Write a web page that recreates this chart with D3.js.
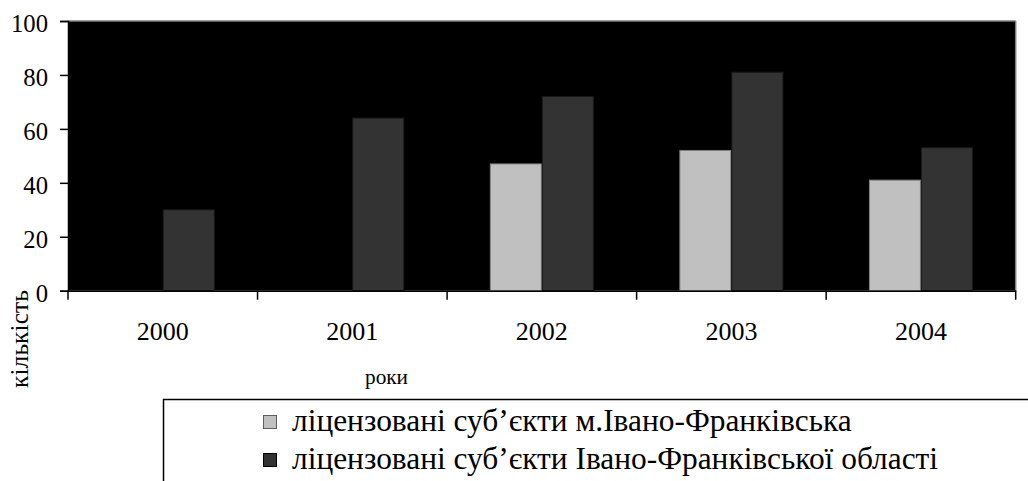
<!DOCTYPE html>
<html><head><meta charset="utf-8">
<script src="https://cdn.jsdelivr.net/npm/d3@7"></script>
<style>html,body{margin:0;padding:0;background:#fff;}</style></head>
<body>
<svg id="chart" width="1028" height="481"></svg>
<script>
const years = ["2000","2001","2002","2003","2004"];
const seriesNames = ["ліцензовані суб’єкти м.Івано-Франківська","ліцензовані суб’єкти Івано-Франківської області"];
const cityValues = [0, 0, 47, 52, 41];
const regionValues = [30, 64, 72, 81, 53];
const yTicks = [0, 20, 40, 60, 80, 100];
const seriesColors = ["#c0c0c0", "#333333"];
const seriesStroke = ["#808080", "#1a1a1a"];
const xTitle = "роки";
const yTitle = "кількість";

const FONT = '"Liberation Serif"';
const svg = d3.select("#chart");
const L = 68, R = 1015.7, T = 21, B = 290.7;

function fitSize(str, width) {
  const t = svg.append("text").style("font-family", FONT).style("font-size", "100px").text(str);
  const w = t.node().getComputedTextLength();
  t.remove();
  return w > 0 ? 100 * width / w : 24;
}

function draw() {
  svg.selectAll("*").remove();

  const x0 = d3.scaleBand().domain(years).range([L, R]).padding(0);
  const keys = [0, 1];
  const x1 = d3.scaleBand().domain(keys).range([0, x0.bandwidth()]).paddingInner(0).paddingOuter(0.822);
  const y = d3.scaleLinear().domain([0, 100]).range([B, T]);

  svg.append("rect").attr("x", L).attr("y", T).attr("width", R - L).attr("height", B - T).attr("fill", "#000");
  svg.append("line").attr("x1", L).attr("x2", R).attr("y1", T).attr("y2", T).attr("stroke", "#808080").attr("stroke-width", 1.5);
  svg.append("line").attr("x1", R).attr("x2", R).attr("y1", T).attr("y2", B).attr("stroke", "#808080").attr("stroke-width", 1.5);

  const data = years.map((yr, i) => ({year: yr, vals: [cityValues[i], regionValues[i]]}));
  const g = svg.append("g");
  data.forEach(d => {
    keys.forEach(k => {
      const v = d.vals[k];
      if (v <= 0) return;
      g.append("rect")
        .attr("x", x0(d.year) + x1(k) + 0.5)
        .attr("y", y(v))
        .attr("width", x1.bandwidth() - 1)
        .attr("height", y(0) - y(v))
        .attr("fill", seriesColors[k])
        .attr("stroke", seriesStroke[k])
        .attr("stroke-width", 1);
    });
  });

  const yFs = fitSize("100", 37);
  const yAxis = svg.append("g").attr("transform", `translate(${L},0)`)
    .call(d3.axisLeft(y).tickValues(yTicks).tickSize(8).tickPadding(12).tickFormat(d3.format("d")));
  yAxis.attr("font-family", "Liberation Serif").attr("font-size", null);
  yAxis.select(".domain").attr("stroke", "#000").attr("stroke-width", 1.5);
  yAxis.selectAll(".tick line").attr("stroke", "#000").attr("stroke-width", 1.5);
  yAxis.selectAll(".tick text").style("font-family", FONT).style("font-size", yFs + "px")
    .attr("fill", "#000").attr("dy", "0.42em");

  const xFs = fitSize("2000", 52);
  const xAxis = svg.append("g").attr("transform", `translate(0,${B})`)
    .call(d3.axisBottom(x0).tickSize(0).tickPadding(0));
  xAxis.attr("font-family", "Liberation Serif").attr("font-size", null);
  xAxis.select(".domain").attr("stroke", "#000").attr("stroke-width", 1.5);
  xAxis.selectAll(".tick text").style("font-family", FONT).style("font-size", xFs + "px")
    .attr("fill", "#000").attr("dy", null).attr("y", 49);
  const bounds = years.map(yr => x0(yr)).concat([R]);
  xAxis.selectAll(".bnd").data(bounds).enter().append("line")
    .attr("x1", d => d).attr("x2", d => d).attr("y1", 0).attr("y2", 9)
    .attr("stroke", "#000").attr("stroke-width", 1.5);

  const xtFs = fitSize(xTitle, 43);
  svg.append("text").attr("x", 386.5).attr("y", 384).attr("text-anchor", "middle")
    .style("font-family", FONT).style("font-size", xtFs + "px").text(xTitle);
  const ytFs = fitSize(yTitle, 98);
  svg.append("text").attr("transform", "translate(27.5,339) rotate(-90)").attr("text-anchor", "middle")
    .style("font-family", FONT).style("font-size", ytFs + "px").text(yTitle);

  svg.append("rect").attr("x", 163.5).attr("y", 399.5).attr("width", 900).attr("height", 120)
    .attr("fill", "none").attr("stroke", "#000").attr("stroke-width", 1.5);
  const legFs = fitSize(seriesNames[0], 560);
  const leg = svg.append("g");
  seriesNames.forEach((name, i) => {
    const base = 431 + i * 38;
    leg.append("rect").attr("x", 263.5).attr("y", base - 15.5).attr("width", 13).attr("height", 13)
      .attr("fill", seriesColors[i]).attr("stroke", i === 0 ? "#606060" : "#000").attr("stroke-width", 1);
    leg.append("text").attr("x", 292).attr("y", base)
      .style("font-family", FONT).style("font-size", legFs + "px").attr("fill", "#000").text(name);
  });
}

draw();
if (document.fonts && document.fonts.load) {
  document.fonts.load('24px "Liberation Serif"', "2000 роки").then(draw).catch(() => {});
}
</script>
</body></html>
